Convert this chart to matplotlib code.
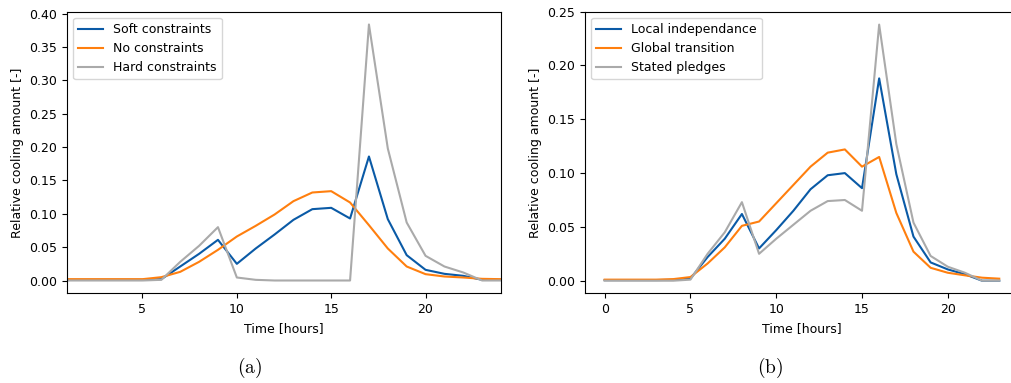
import matplotlib
matplotlib.use('Agg')
import matplotlib.pyplot as plt

# ── DATA ──────────────────────────────────────────────────────────────────────
hours_a = list(range(1, 25))
soft_constraints = [0.001, 0.001, 0.001, 0.001, 0.001, 0.002, 0.021, 0.040, 0.061, 0.025,
                    0.048, 0.069, 0.091, 0.107, 0.109, 0.093, 0.186, 0.092, 0.038, 0.016,
                    0.010, 0.007, 0.001, 0.001]
no_constraints = [0.002, 0.002, 0.002, 0.002, 0.002, 0.005, 0.013, 0.028, 0.046, 0.066,
                  0.082, 0.099, 0.119, 0.132, 0.134, 0.117, 0.083, 0.048, 0.021, 0.0095,
                  0.006, 0.0045, 0.0025, 0.002]
hard_constraints = [0.0, 0.0, 0.0, 0.0, 0.0, 0.001, 0.028, 0.052, 0.080, 0.0045,
                    0.001, 0.0, 0.0, 0.0, 0.0, 0.0, 0.384, 0.198, 0.087, 0.037,
                    0.021, 0.012, 0.0, 0.0]

hours_b = list(range(0, 24))
local_independance = [0.0006, 0.0006, 0.0006, 0.0006, 0.0008, 0.002, 0.022, 0.039, 0.062, 0.030,
                      0.047, 0.065, 0.085, 0.098, 0.100, 0.086, 0.188, 0.099, 0.041, 0.017,
                      0.0105, 0.006, 0.0, 0.0]
global_transition = [0.001, 0.001, 0.001, 0.001, 0.0015, 0.0034, 0.016, 0.031, 0.051, 0.055,
                     0.072, 0.089, 0.106, 0.119, 0.122, 0.106, 0.115, 0.063, 0.027, 0.012,
                     0.0074, 0.005, 0.0028, 0.0019]
stated_pledges = [0.0, 0.0, 0.0, 0.0, 0.0, 0.001, 0.025, 0.045, 0.073, 0.025,
                  0.039, 0.052, 0.065, 0.074, 0.075, 0.065, 0.238, 0.127, 0.054, 0.023,
                  0.013, 0.0074, 0.0, 0.0]

biru = '#0a5aa6'
oranye = '#ff7f0e'
abu = '#aaaaaa'

plt.rcParams['font.size'] = 9

# ── GAMBAR ────────────────────────────────────────────────────────────────────
fig = plt.figure(figsize=(10.12, 3.83), dpi=100)
ax_a = fig.add_axes([0.0662, 0.2342, 0.4289, 0.7353])
ax_b = fig.add_axes([0.5780, 0.2342, 0.4289, 0.7353])

ax_a.plot(hours_a, soft_constraints, color=biru, label='Soft constraints')
ax_a.plot(hours_a, no_constraints, color=oranye, label='No constraints')
ax_a.plot(hours_a, hard_constraints, color=abu, label='Hard constraints')
ax_a.set_xlim(1, 24)
ax_a.set_xticks([5, 10, 15, 20])
ax_a.set_xlabel('Time [hours]')
ax_a.set_ylabel('Relative cooling amount [-]')
ax_a.legend(loc='upper left')

ax_b.plot(hours_b, local_independance, color=biru, label='Local independance')
ax_b.plot(hours_b, global_transition, color=oranye, label='Global transition')
ax_b.plot(hours_b, stated_pledges, color=abu, label='Stated pledges')
ax_b.set_ylim(-0.0117, 0.25)
ax_b.set_xticks([0, 5, 10, 15, 20])
ax_b.set_xlabel('Time [hours]')
ax_b.set_ylabel('Relative cooling amount [-]')
ax_b.legend(loc='upper left')

# Keterangan sub-gambar
fig.text(250 / 1012, 1 - 368 / 383, r'$\rm (a)$', ha='center', va='center',
         fontsize=14, math_fontfamily='cm')
fig.text(770 / 1012, 1 - 368 / 383, r'$\rm (b)$', ha='center', va='center',
         fontsize=14, math_fontfamily='cm')

plt.savefig('out.png', dpi=100)
